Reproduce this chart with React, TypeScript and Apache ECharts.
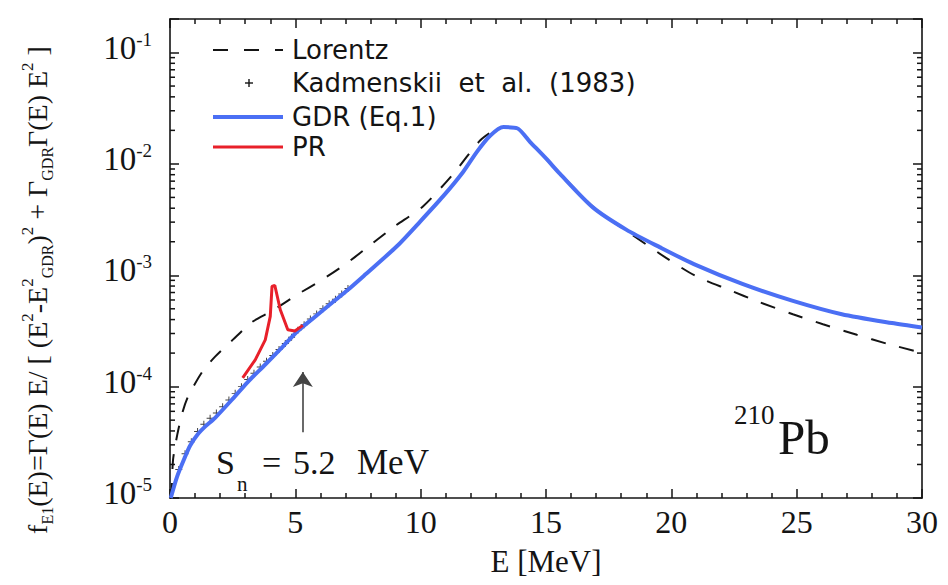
import React, { useEffect, useRef } from 'react';
import * as echarts from 'echarts';

// ---- data ----
const gdrE = [0.03, 0.28, 0.6, 0.8, 1.1, 1.4, 1.8, 2.5, 3.1, 3.8, 4.5, 5.1, 5.8, 6.5, 7.1, 7.8, 9.05, 9.97, 10.9, 11.7, 12.25, 12.76, 13.3, 13.85, 14.36, 15.0, 15.56, 16.87, 18.2, 19.55, 20.9, 22.86, 24.85, 26.8, 28.8, 30];
const gdrF = [1.0e-5, 1.55e-5, 2.34e-5, 2.95e-5, 3.72e-5, 4.37e-5, 5.25e-5, 7.76e-5, 1.10e-4, 1.58e-4, 2.29e-4, 3.16e-4, 4.27e-4, 5.75e-4, 7.41e-4, 1.02e-3, 1.82e-3, 3.02e-3, 5.13e-3, 8.51e-3, 1.29e-2, 1.78e-2, 2.14e-2, 2.09e-2, 1.58e-2, 1.12e-2, 8.13e-3, 4.07e-3, 2.57e-3, 1.78e-3, 1.26e-3, 8.32e-4, 5.89e-4, 4.47e-4, 3.72e-4, 3.39e-4];

const lorE = [0.06, 0.12, 0.3, 0.5, 0.72, 1.28, 1.8, 2.5, 3.27, 4.07, 5.1, 6.0, 7.0, 7.7, 8.9, 10.1, 11.3, 12.37, 13.0, 13.4, 13.9, 14.5, 15.7, 17.0, 18.4, 19.9, 21.0, 22.3, 23.5, 24.85, 26.05, 27.4, 28.6, 29.9];
const lorF = [1.0e-5, 2.19e-5, 3.80e-5, 5.89e-5, 8.13e-5, 1.35e-4, 1.86e-4, 2.63e-4, 3.80e-4, 4.79e-4, 6.76e-4, 8.91e-4, 1.26e-3, 1.66e-3, 2.69e-3, 4.17e-3, 8.13e-3, 1.62e-2, 2.04e-2, 2.14e-2, 2.04e-2, 1.45e-2, 7.59e-3, 3.89e-3, 2.34e-3, 1.38e-3, 9.77e-4, 7.41e-4, 5.75e-4, 4.47e-4, 3.63e-4, 2.92e-4, 2.43e-4, 2.04e-4];

const prE = [2.9, 3.4, 3.8, 4.0, 4.07, 4.18, 4.4, 4.7, 4.98, 5.3];
const prF = [1.20e-4, 1.74e-4, 2.63e-4, 4.27e-4, 7.94e-4, 8.13e-4, 4.90e-4, 3.24e-4, 3.16e-4, 3.55e-4];

const kadE = [0.35, 0.6, 0.85, 1.1, 1.35, 1.6, 1.85, 2.1, 2.35, 2.6, 2.85, 3.1, 3.35, 3.6, 3.85, 4.1, 4.35, 4.6, 4.85, 5.1, 5.35, 5.6, 5.85, 6.1, 6.35, 6.6, 6.85, 7.1];
const kadF = [1.8e-5, 2.5e-5, 3.2e-5, 3.95e-5, 4.6e-5, 5.2e-5, 5.8e-5, 6.6e-5, 7.6e-5, 8.7e-5, 1.0e-4, 1.16e-4, 1.32e-4, 1.50e-4, 1.69e-4, 1.90e-4, 2.15e-4, 2.44e-4, 2.78e-4, 3.2e-4, 3.6e-4, 4.05e-4, 4.5e-4, 5.0e-4, 5.55e-4, 6.1e-4, 6.8e-4, 7.6e-4];

const snE = 5.3;
const arrowF = [3.9e-5, 1.35e-4];

const minorMultipliers = [2, 3, 4, 5, 6, 7, 8, 9];
const minorDecades = [1e-5, 1e-4, 1e-3, 1e-2];

const zip = (xs: number[], ys: number[]) => xs.map((x, i) => [x, ys[i]]);

const SERIF = '"Liberation Serif", "Times New Roman", serif';
const SANS = '"DejaVu Sans", sans-serif';
const BLUE = '#4b6ff4';
const RED = '#e8202a';
const INK = '#141414';

const plusPath = 'path://M0,4.3H10V5.7H0Z M4.3,0H5.7V10H4.3Z';

export default function App() {
  const ref = useRef<HTMLDivElement>(null);
  useEffect(() => {
    const chart = echarts.init(ref.current!, null, { renderer: 'svg' });
    const minorVals: number[] = [];
    minorDecades.forEach((d) => minorMultipliers.forEach((m) => minorVals.push(m * d)));

    const yLabel = (v: number) => {
      const l = Math.log10(v);
      const e = Math.round(l);
      if (Math.abs(l - e) > 1e-6) return '';
      return `{b|10}{s|${e}}`;
    };

    const tickStyle = { color: INK, width: 1.5 };
    const option: any = {
      animation: false,
      backgroundColor: '#ffffff',
      grid: { left: 170, right: 26, top: 19, bottom: 87, containLabel: false },
      xAxis: [
        {
          type: 'value', min: 0, max: 30, interval: 5, position: 'bottom',
          axisLine: { show: true, onZero: false, lineStyle: { color: INK, width: 1.6 } },
          axisTick: { show: true, inside: true, length: 9, lineStyle: tickStyle },
          minorTick: { show: true, splitNumber: 5, length: 5, lineStyle: tickStyle },
          splitLine: { show: false },
          axisLabel: { fontFamily: SERIF, fontSize: 32, color: INK, margin: 8 },
          name: 'E [MeV]', nameLocation: 'middle', nameGap: 48,
          nameTextStyle: { fontFamily: SERIF, fontSize: 31, color: INK },
        },
        {
          type: 'value', min: 0, max: 30, interval: 5, position: 'top',
          axisLine: { show: true, onZero: false, lineStyle: { color: INK, width: 1.6 } },
          axisTick: { show: true, inside: true, length: 9, lineStyle: tickStyle },
          minorTick: { show: true, splitNumber: 5, length: 5, lineStyle: tickStyle },
          splitLine: { show: false },
          axisLabel: { show: false },
        },
      ],
      yAxis: [
        {
          type: 'log', logBase: 10, min: 1e-5, max: 0.2, position: 'left',
          axisLine: { show: true, onZero: false, lineStyle: { color: INK, width: 1.6 } },
          axisTick: { show: true, inside: true, length: 9, lineStyle: tickStyle },
          splitLine: { show: false },
          axisLabel: {
            formatter: yLabel, margin: 18, color: INK, padding: [0, 0, 10, 0],
            rich: {
              b: { fontFamily: SERIF, fontSize: 33, color: INK, lineHeight: 36 },
              s: { fontFamily: SERIF, fontSize: 19, color: INK, lineHeight: 18, verticalAlign: 'top' },
            },
          },
        },
        {
          type: 'log', logBase: 10, min: 1e-5, max: 0.2, position: 'right',
          axisLine: { show: true, onZero: false, lineStyle: { color: INK, width: 1.6 } },
          axisTick: { show: true, inside: true, length: 9, lineStyle: tickStyle },
          splitLine: { show: false },
          axisLabel: { show: false },
        },
      ],
      series: [
        {
          name: 'Lorentz', type: 'line', data: zip(lorE, lorF), showSymbol: false, smooth: 0.25,
          lineStyle: { color: INK, width: 2, type: [15, 14] }, z: 2, silent: true,
        },
        {
          name: 'Kadmenskii et al. (1983)', type: 'scatter', data: zip(kadE, kadF),
          symbol: plusPath, symbolSize: 7, itemStyle: { color: '#111' }, z: 2, silent: true,
        },
        {
          name: 'GDR (Eq.1)', type: 'line', data: zip(gdrE, gdrF), showSymbol: false, smooth: 0.25,
          lineStyle: { color: BLUE, width: 4 }, z: 3, silent: true,
        },
        {
          name: 'PR', type: 'line', data: zip(prE, prF), showSymbol: false, smooth: false,
          lineStyle: { color: RED, width: 3 }, z: 4, silent: true,
        },
        {
          name: 'Sn', type: 'line', data: [], silent: true,
          markLine: {
            silent: true, symbol: ['none', 'arrow'], symbolSize: 15,
            label: { show: false },
            lineStyle: { color: '#444', width: 1.6, type: 'solid' },
            data: [[{ coord: [snE, arrowF[0]] }, { coord: [snE, arrowF[1]] }]],
          },
        },
        {
          name: 'minorY', type: 'custom', silent: true, clip: false, z: 5,
          data: minorVals.map((v) => [0, v]),
          encode: { x: 0, y: 1 },
          renderItem: (params: any, api: any) => {
            const cs = params.coordSys;
            const y = api.coord([0, api.value(1)])[1];
            const st = { stroke: INK, lineWidth: 1.5 };
            return {
              type: 'group',
              children: [
                { type: 'line', shape: { x1: cs.x, y1: y, x2: cs.x + 5, y2: y }, style: st },
                { type: 'line', shape: { x1: cs.x + cs.width - 5, y1: y, x2: cs.x + cs.width, y2: y }, style: st },
              ],
            };
          },
        },
      ],
      graphic: [
        // y-axis title
        {
          type: 'text', x: 37, y: 290, rotation: Math.PI / 2,
          style: {
            text: '{n|f}{sub|E1}{n|(E)=Γ(E) E/ [ (E}{sup|2}{n|-E}{sup|2}{sub|GDR}{n|)}{sup|2}{n| + Γ}{sub|GDR}{n|Γ(E) E}{sup|2}{n| ]}',
            align: 'center', verticalAlign: 'middle',
            rich: {
              n: { fontFamily: SERIF, fontSize: 28, fill: INK, lineHeight: 36 },
              sup: { fontFamily: SERIF, fontSize: 17, fill: INK, lineHeight: 15, verticalAlign: 'top' },
              sub: { fontFamily: SERIF, fontSize: 16, fill: INK, lineHeight: 15, verticalAlign: 'bottom' },
            },
          },
        },
        // legend
        { type: 'line', shape: { x1: 213, y1: 50, x2: 283, y2: 50 }, style: { stroke: INK, lineWidth: 2, lineDash: [15, 16] } },
        { type: 'line', shape: { x1: 245, y1: 83, x2: 253, y2: 83 }, style: { stroke: INK, lineWidth: 1.4 } },
        { type: 'line', shape: { x1: 249, y1: 79, x2: 249, y2: 87 }, style: { stroke: INK, lineWidth: 1.4 } },
        { type: 'line', shape: { x1: 213, y1: 117, x2: 283, y2: 117 }, style: { stroke: BLUE, lineWidth: 4 } },
        { type: 'line', shape: { x1: 213, y1: 147, x2: 283, y2: 147 }, style: { stroke: RED, lineWidth: 3 } },
        { type: 'text', x: 292, y: 50, style: { text: 'Lorentz', fontFamily: SANS, fontSize: 26, fill: INK, verticalAlign: 'middle' } },
        { type: 'text', x: 292, y: 83, style: { text: 'Kadmenskii  et  al.  (1983)', fontFamily: SANS, fontSize: 26, fill: INK, verticalAlign: 'middle' } },
        { type: 'text', x: 292, y: 117, style: { text: 'GDR (Eq.1)', fontFamily: SANS, fontSize: 26, fill: INK, verticalAlign: 'middle' } },
        { type: 'text', x: 292, y: 147, style: { text: 'PR', fontFamily: SANS, fontSize: 26, fill: INK, verticalAlign: 'middle' } },
        // S_n annotation
        { type: 'text', x: 216, y: 462, style: { text: 'S', fontFamily: SERIF, fontSize: 34, fill: INK, verticalAlign: 'middle' } },
        { type: 'text', x: 237, y: 484, style: { text: 'n', fontFamily: SERIF, fontSize: 21, fill: INK, verticalAlign: 'middle' } },
        { type: 'text', x: 262, y: 462, style: { text: '=', fontFamily: SERIF, fontSize: 34, fill: INK, verticalAlign: 'middle' } },
        { type: 'text', x: 293, y: 462, style: { text: '5.2', fontFamily: SERIF, fontSize: 34, fill: INK, verticalAlign: 'middle' } },
        { type: 'text', x: 357, y: 462, style: { text: 'MeV', fontFamily: SERIF, fontSize: 35, fill: INK, verticalAlign: 'middle' } },
        // 210Pb
        { type: 'text', x: 734, y: 415, style: { text: '210', fontFamily: SERIF, fontSize: 27, fill: INK, verticalAlign: 'middle' } },
        { type: 'text', x: 778, y: 437, style: { text: 'Pb', fontFamily: SERIF, fontSize: 49, fill: INK, verticalAlign: 'middle' } },
      ],
    };
    chart.setOption(option);
    return () => chart.dispose();
  }, []);
  return (
    <div
      ref={ref}
      style={{ position: 'fixed', left: 0, top: 0, width: 948, height: 585, background: '#fff' }}
    />
  );
}
